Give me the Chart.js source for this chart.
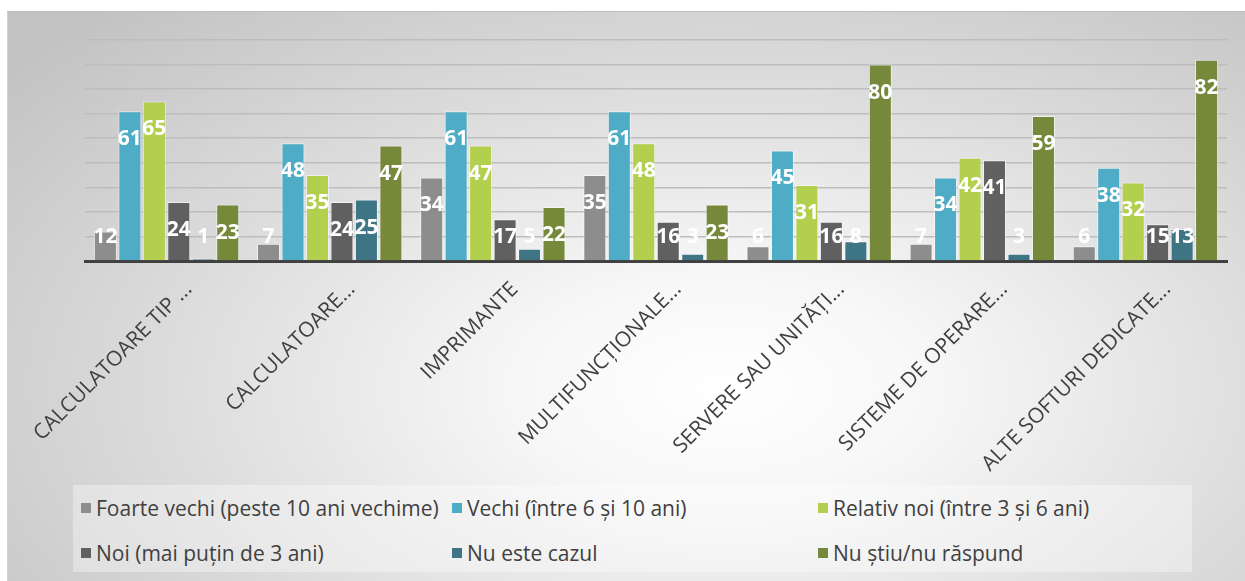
<!DOCTYPE html>
<html>
<head>
<meta charset="utf-8">
<script src="https://cdn.jsdelivr.net/npm/chart.js"></script>
<style>
    html, body { margin: 0; padding: 0; background: #fff; }
    body { width: 1245px; height: 581px; position: relative; overflow: hidden; font-family: 'Open Sans', sans-serif; }
    .frame {
        position: absolute; left: 7px; top: 11px; right: 0; bottom: 0;
        border-top: 1px solid #bdbdbd; border-left: 1px solid #d0d0d0;
        background: radial-gradient(ellipse 75% 90% at 58% 66%, #ffffff 0%, #f7f7f7 22%, #dcdcdc 60%, #c2c2c2 100%);
    }
    .chart-box { position: absolute; left: 0; top: 0; width: 1245px; height: 581px; }
    .legend {
        position: absolute; left: 73px; top: 485px; width: 1119px; height: 87px;
        background: rgba(255, 255, 255, 0.35);
    }
    .legend-item {
        position: absolute; display: flex; align-items: center;
        font-size: 21px; color: #404040; white-space: nowrap; height: 26px;
    }
    .legend-item span.sq { width: 10px; height: 10px; margin-right: 5px; display: inline-block; }
</style>
</head>
<body>
<div class="frame"></div>
<div class="legend" id="legend"></div>
<div class="chart-box"><canvas id="chart"></canvas></div>
<script>
// --- Data ---
const categories = ['CALCULATOARE TIP ...', 'CALCULATOARE...', 'IMPRIMANTE', 'MULTIFUNCȚIONALE...',
    'SERVERE SAU UNITĂȚI...', 'SISTEME DE OPERARE...', 'ALTE SOFTURI DEDICATE...'];
const seriesNames = ['Foarte vechi (peste 10 ani vechime)', 'Vechi (între 6 și 10 ani)', 'Relativ noi (între 3 și 6 ani)',
    'Noi (mai puțin de 3 ani)', 'Nu este cazul', 'Nu știu/nu răspund'];
const foarteVechi = [12, 7, 34, 35, 6, 7, 6];
const vechi = [61, 48, 61, 61, 45, 34, 38];
const relativNoi = [65, 35, 47, 48, 31, 42, 32];
const noi = [24, 24, 17, 16, 16, 41, 15];
const nuEsteCazul = [1, 25, 5, 3, 8, 3, 13];
const nuStiu = [23, 47, 22, 23, 80, 59, 82];
const yTicks = [0, 10, 20, 30, 40, 50, 60, 70, 80, 90];

const colors = ['#8d8d8d', '#4eacc6', '#b2cf4e', '#606060', '#3d7585', '#76893a'];
const values = [foarteVechi, vechi, relativNoi, noi, nuEsteCazul, nuStiu];

// --- Value labels drawn on the bars ---
const barLabels = {
    id: 'barLabels',
    afterDatasetsDraw(chart) {
        const ctx = chart.ctx;
        ctx.save();
        ctx.fillStyle = '#ffffff';
        ctx.font = 'bold 21px "Open Sans"';
        ctx.textAlign = 'center';
        ctx.textBaseline = 'middle';
        chart.data.datasets.forEach((ds, i) => {
            chart.getDatasetMeta(i).data.forEach((bar, j) => {
                const y = Math.min(bar.y + 28, bar.base - 23);
                ctx.fillText(ds.data[j], bar.x, y);
            });
        });
        ctx.restore();
    }
};

const ctx = document.getElementById('chart').getContext('2d');
new Chart(ctx, {
    type: 'bar',
    data: {
        labels: categories,
        datasets: seriesNames.map((name, i) => ({
            label: name,
            data: values[i],
            backgroundColor: colors[i],
            borderColor: 'rgba(255,255,255,0.55)',
            borderWidth: 1,
            categoryPercentage: 0.9,
            barPercentage: 0.94
        }))
    },
    options: {
        responsive: true,
        maintainAspectRatio: false,
        animation: false,
        layout: { padding: { left: 85, right: 18, top: 40, bottom: 40 } },
        plugins: {
            legend: { display: false },
            tooltip: { enabled: false }
        },
        scales: {
            x: {
                grid: { display: false },
                border: { display: true, color: '#404040', width: 3 },
                ticks: {
                    color: '#404040',
                    font: { family: 'Open Sans', size: 21 },
                    minRotation: 45,
                    maxRotation: 45,
                    autoSkip: false,
                    padding: 8,
                    labelOffset: 22
                },
                afterFit: s => { s.height = 280; }
            },
            y: {
                min: 0,
                max: 90,
                afterBuildTicks: s => { s.ticks = yTicks.map(v => ({ value: v })); },
                ticks: { display: false },
                grid: { color: '#bdbdbd', lineWidth: 1.5, drawTicks: false },
                border: { display: false },
                afterFit: s => { s.width = 0; }
            }
        }
    },
    plugins: [barLabels]
});

// --- Legend (3 columns, 2 rows) ---
const legend = document.getElementById('legend');
const colX = [8, 379, 745];
const rowY = [10, 55];
seriesNames.forEach((name, i) => {
    const item = document.createElement('div');
    item.className = 'legend-item';
    item.style.left = colX[i % 3] + 'px';
    item.style.top = rowY[Math.floor(i / 3)] + 'px';
    item.innerHTML = `<span class="sq" style="background:${colors[i]}"></span>${name}`;
    legend.appendChild(item);
});
</script>
</body>
</html>
